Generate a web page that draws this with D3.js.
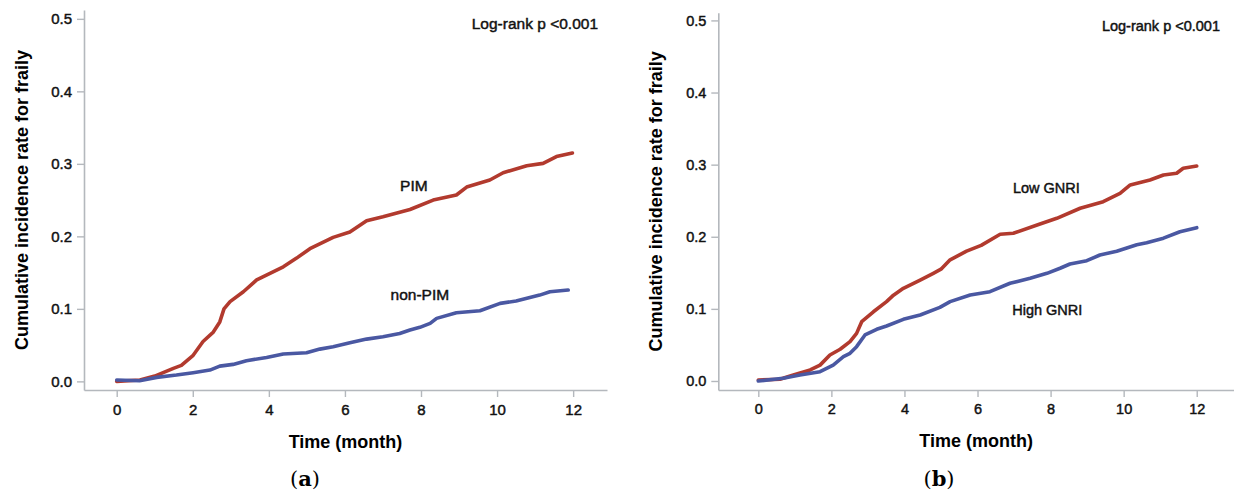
<!DOCTYPE html>
<html><head><meta charset="utf-8">
<script src="https://cdn.jsdelivr.net/npm/d3@7"></script>
<style>
body{margin:0;background:#fff;}
svg{display:block;font-family:"Liberation Sans",Arial,sans-serif;}
</style></head>
<body>
<svg id="chart" width="1234" height="495"></svg>
<script>
// ---- Data ----
const xTicks = [0, 2, 4, 6, 8, 10, 12];
const yTicks = [0.0, 0.1, 0.2, 0.3, 0.4, 0.5];
const yTickLabels = ["0.0", "0.1", "0.2", "0.3", "0.4", "0.5"];
const xTitle = "Time (month)";
const yTitle = "Cumulative incidence rate for fraily";
const pText = "Log-rank p <0.001";

// Panel (a)
const pimTime = [0, 0.61, 1.0, 1.49, 1.7, 2.01, 2.27, 2.54, 2.71, 2.82, 2.98, 3.33, 3.68, 4.03, 4.38, 4.73, 5.08, 5.69, 6.13, 6.57, 7.0, 7.71, 8.32, 8.93, 9.2, 9.81, 10.16, 10.78, 11.21, 11.56, 11.98];
const pimRate = [0, 0.002, 0.0073, 0.018, 0.022, 0.036, 0.055, 0.068, 0.082, 0.1, 0.11, 0.1236, 0.14, 0.149, 0.158, 0.17, 0.183, 0.1986, 0.206, 0.2215, 0.227, 0.237, 0.25, 0.257, 0.268, 0.2777, 0.2877, 0.2974, 0.3007, 0.31, 0.315];
const nonPimTime = [0, 0.6, 1.05, 1.57, 2.01, 2.45, 2.71, 3.06, 3.41, 3.94, 4.38, 4.99, 5.34, 5.69, 6.13, 6.57, 7.0, 7.44, 7.71, 7.97, 8.24, 8.41, 8.93, 9.55, 10.08, 10.5, 11.12, 11.39, 11.87];
const nonPimRate = [0.0018, 0.0008, 0.0055, 0.0087, 0.012, 0.0156, 0.021, 0.0234, 0.0284, 0.033, 0.0377, 0.0395, 0.0445, 0.0477, 0.0532, 0.0583, 0.0615, 0.066, 0.0708, 0.0745, 0.08, 0.0869, 0.0946, 0.0974, 0.1076, 0.1108, 0.119, 0.1236, 0.126];

// Panel (b)
const lowTime = [0, 0.59, 0.96, 1.42, 1.69, 1.96, 2.24, 2.51, 2.69, 2.83, 3.15, 3.51, 3.7, 3.97, 4.43, 4.79, 5.0, 5.25, 5.7, 6.1, 6.62, 6.98, 7.71, 8.17, 8.81, 9.44, 9.9, 10.18, 10.72, 11.09, 11.45, 11.63, 12.0];
const lowRate = [0.0014, 0.0024, 0.0083, 0.0153, 0.022, 0.036, 0.044, 0.0545, 0.066, 0.0822, 0.096, 0.11, 0.119, 0.1285, 0.14, 0.1493, 0.155, 0.168, 0.18, 0.188, 0.2034, 0.2048, 0.2177, 0.2256, 0.2395, 0.2486, 0.26, 0.2718, 0.2787, 0.2856, 0.288, 0.295, 0.298];
const highTime = [0, 0.68, 1.14, 1.69, 2.05, 2.33, 2.51, 2.69, 2.92, 3.24, 3.51, 3.97, 4.43, 4.97, 5.25, 5.8, 6.34, 6.89, 7.44, 7.9, 8.26, 8.53, 8.99, 9.35, 9.81, 10.36, 10.63, 11.09, 11.54, 12.0];
const highRate = [0, 0.0037, 0.0083, 0.0129, 0.022, 0.0337, 0.0384, 0.0476, 0.0638, 0.0717, 0.0763, 0.0855, 0.0915, 0.102, 0.11, 0.1192, 0.1238, 0.1355, 0.1424, 0.1493, 0.1563, 0.1622, 0.1668, 0.1747, 0.18, 0.189, 0.1918, 0.198, 0.207, 0.2126];

const seriesA = [
  {name: "PIM", time: pimTime, rate: pimRate, color: "#b23a2e"},
  {name: "non-PIM", time: nonPimTime, rate: nonPimRate, color: "#4a58a2"}
];
const seriesB = [
  {name: "Low GNRI", time: lowTime, rate: lowRate, color: "#b23a2e"},
  {name: "High GNRI", time: highTime, rate: highRate, color: "#4a58a2"}
];

const svg = d3.select("#chart");

function semibold(sel) {
  return sel.attr("fill", "#111").attr("stroke", "#111").attr("stroke-width", 0.45).attr("paint-order", "stroke");
}

function panel(cfg) {
  const x = d3.scaleLinear().domain(cfg.xDomain).range(cfg.xRange);
  const y = d3.scaleLinear().domain(cfg.yDomain).range(cfg.yRange);
  const g = svg.append("g");

  const xAxis = g.append("g").attr("transform", `translate(0,${cfg.yRange[0]})`)
    .call(d3.axisBottom(x).tickValues(xTicks).tickSize(7).tickSizeOuter(0).tickPadding(7).tickFormat(d3.format("d")));
  const yAxis = g.append("g").attr("transform", `translate(${cfg.xRange[0]},0)`)
    .call(d3.axisLeft(y).tickValues(yTicks).tickSize(7).tickSizeOuter(0).tickPadding(5).tickFormat((d, i) => yTickLabels[i]));
  [xAxis, yAxis].forEach(a => {
    a.select(".domain").attr("stroke", "#b4b8bd").attr("stroke-width", 1.6);
    a.selectAll(".tick line").attr("stroke", "#b4b8bd").attr("stroke-width", 1.4);
    semibold(a.selectAll(".tick text")).attr("font-size", cfg.tickFont).attr("font-family", "Liberation Sans, Arial, sans-serif");
  });

  const line = d3.line().x(d => x(d[0])).y(d => y(d[1])).curve(d3.curveLinear);
  cfg.series.forEach(s => {
    g.append("path").datum(d3.zip(s.time, s.rate))
      .attr("d", line).attr("fill", "none").attr("stroke", s.color)
      .attr("stroke-width", 3.6).attr("stroke-linejoin", "round").attr("stroke-linecap", "round");
  });

  cfg.labels.forEach((l, i) => {
    semibold(g.append("text").attr("x", x(l.t)).attr("y", y(l.v)).attr("font-size", cfg.labelFont))
      .text(cfg.series[i].name);
  });

  semibold(g.append("text").attr("x", cfg.pPos[0]).attr("y", cfg.pPos[1]).attr("text-anchor", "end")
    .attr("font-size", cfg.labelFont)).text(pText);

  g.append("text").attr("x", (cfg.xRange[0] + cfg.xRange[1]) / 2).attr("y", cfg.xTitleY)
    .attr("text-anchor", "middle").attr("font-weight", "bold").attr("font-size", 18).attr("fill", "#000").text(xTitle);

  g.append("text").attr("transform", `translate(${cfg.yTitleX},${(cfg.yRange[0] + cfg.yRange[1]) / 2}) rotate(-90)`)
    .attr("text-anchor", "middle").attr("font-weight", "bold").attr("font-size", 18).attr("fill", "#000").text(yTitle);

  const cap = g.append("text").attr("x", cfg.capX).attr("y", 486).attr("text-anchor", "middle")
    .attr("font-family", "DejaVu Serif, Liberation Serif, serif").attr("font-size", 21).attr("fill", "#000");
  cap.append("tspan").text("(");
  cap.append("tspan").attr("font-weight", "bold").text(cfg.cap);
  cap.append("tspan").text(")");
}

panel({
  series: seriesA,
  xDomain: [-0.86, 12.89], xRange: [84, 607],
  yDomain: [-0.0119, 0.5122], yRange: [390, 10],
  tickFont: 15, labelFont: 15.5,
  labels: [{t: 7.45, v: 0.262}, {t: 7.2, v: 0.112}],
  pPos: [598, 29], xTitleY: 448, yTitleX: 28, capX: 305, cap: "a"
});
panel({
  series: seriesB,
  xDomain: [-1.095, 13.02], xRange: [718.3, 1234],
  yDomain: [-0.0125, 0.5107], yRange: [390, 12.7],
  tickFont: 14.5, labelFont: 14.5,
  labels: [{t: 6.97, v: 0.2611}, {t: 6.95, v: 0.0915}],
  pPos: [1220, 31], xTitleY: 447, yTitleX: 662, capX: 939, cap: "b"
});
</script>
</body></html>
